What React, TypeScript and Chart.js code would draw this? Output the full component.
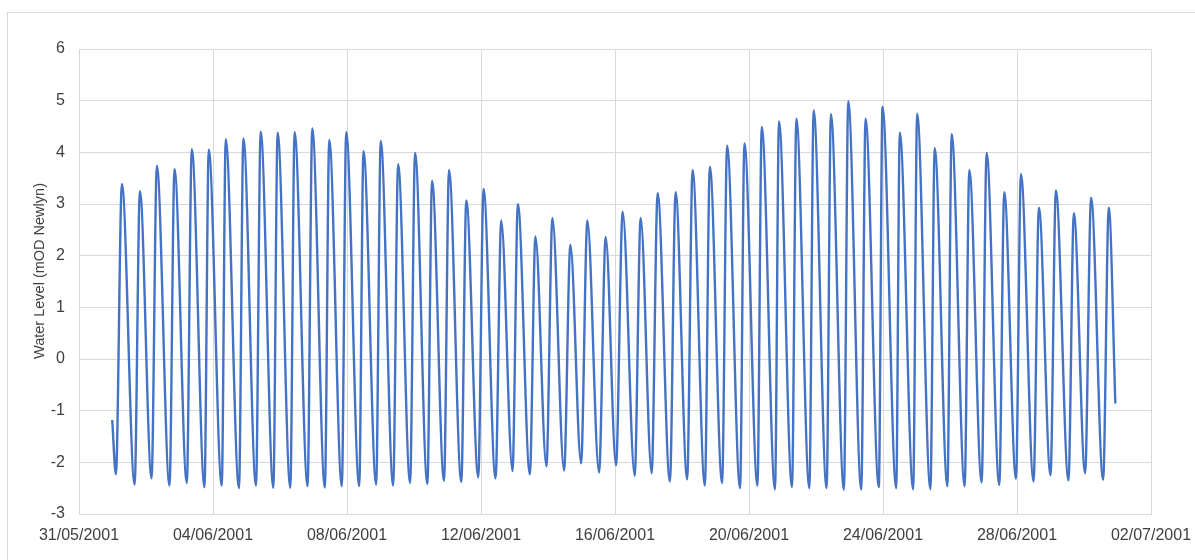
import React, { useEffect, useRef } from 'react';
import { Chart, registerables } from 'chart.js';

Chart.register(...registerables);

// X tick labels (every 4 days from 31/05/2001)
const dateLabels = [
  '31/05/2001', '04/06/2001', '08/06/2001', '12/06/2001', '16/06/2001',
  '20/06/2001', '24/06/2001', '28/06/2001', '02/07/2001',
];
const yAxisTitle = 'Water Level (mOD Newlyn)';

// Time in days since 31/05/2001 00:00, water level in mOD Newlyn
const startDay = 0.992;
const startLevel = -1.18;
const endDay = 30.936;
const endLevel = -0.86;

const lowDays = [
  1.102, 1.660, 2.166, 2.702, 3.218, 3.745, 4.261, 4.776, 5.283, 5.801,
  6.308, 6.823, 7.339, 7.845, 8.364, 8.870, 9.377, 9.883, 10.399, 10.896,
  11.412, 11.918, 12.434, 12.940, 13.458, 13.953, 14.480, 14.987, 15.523, 16.030,
  16.587, 17.094, 17.639, 18.154, 18.682, 19.197, 19.733, 20.252, 20.776, 21.283,
  21.801, 22.317, 22.833, 23.351, 23.875, 24.394, 24.900, 25.415, 25.922, 26.437,
  26.944, 27.471, 27.969, 28.494, 29.000, 29.536, 30.033, 30.570,
];
const lowLevels = [
  -2.23, -2.43, -2.31, -2.45, -2.40, -2.48, -2.45, -2.50, -2.45, -2.49,
  -2.49, -2.46, -2.49, -2.46, -2.46, -2.43, -2.45, -2.40, -2.42, -2.36,
  -2.38, -2.29, -2.31, -2.17, -2.23, -2.08, -2.16, -2.02, -2.20, -2.06,
  -2.26, -2.21, -2.37, -2.33, -2.45, -2.40, -2.50, -2.45, -2.52, -2.48,
  -2.50, -2.50, -2.53, -2.53, -2.48, -2.50, -2.52, -2.52, -2.46, -2.46,
  -2.39, -2.44, -2.32, -2.37, -2.25, -2.35, -2.21, -2.34,
];
const highDays = [
  1.281, 1.818, 2.324, 2.851, 3.367, 3.873, 4.380, 4.907, 5.423, 5.929,
  6.436, 6.963, 7.470, 7.976, 8.492, 9.007, 9.526, 10.032, 10.539, 11.045,
  11.561, 12.076, 12.604, 13.101, 13.625, 14.132, 14.668, 15.175, 15.723, 16.229,
  16.766, 17.273, 17.809, 18.315, 18.831, 19.346, 19.864, 20.380, 20.895, 21.414,
  21.930, 22.445, 22.963, 23.479, 23.985, 24.501, 25.019, 25.543, 26.050, 26.577,
  27.093, 27.620, 28.118, 28.654, 29.161, 29.697, 30.212, 30.740,
];
const highLevels = [
  3.39, 3.25, 3.74, 3.68, 4.06, 4.05, 4.25, 4.27, 4.40, 4.38,
  4.39, 4.46, 4.24, 4.39, 4.02, 4.22, 3.77, 3.99, 3.45, 3.66,
  3.07, 3.29, 2.68, 3.00, 2.37, 2.73, 2.21, 2.68, 2.36, 2.85,
  2.73, 3.21, 3.23, 3.66, 3.72, 4.13, 4.17, 4.49, 4.60, 4.65,
  4.81, 4.74, 4.99, 4.65, 4.88, 4.38, 4.75, 4.08, 4.35, 3.66,
  3.99, 3.23, 3.58, 2.93, 3.26, 2.82, 3.12, 2.93,
];

const FONT = '"Liberation Sans", Arial, Helvetica, sans-serif';
const TEXT = '#404040';
const GRID = '#d9d9d9';

const yTitlePlugin = {
  id: 'yTitleText',
  afterDraw(chart: any) {
    const ctx = chart.ctx;
    ctx.save();
    ctx.translate(33, 259);
    ctx.rotate(-Math.PI / 2);
    ctx.font = `14.5px ${FONT}`;
    ctx.fillStyle = TEXT;
    ctx.textAlign = 'center';
    ctx.textBaseline = 'middle';
    ctx.fillText(yAxisTitle, 0, 0);
    ctx.restore();
  },
};

export default function App() {
  const ref = useRef<HTMLCanvasElement>(null);

  useEffect(() => {
    if (!ref.current) return;
    const points: { x: number; y: number }[] = [{ x: startDay, y: startLevel }];
    lowDays.forEach((d, i) => points.push({ x: d, y: lowLevels[i] }));
    highDays.forEach((d, i) => points.push({ x: d, y: highLevels[i] }));
    points.push({ x: endDay, y: endLevel });
    points.sort((a, b) => a.x - b.x);

    const chart = new Chart(ref.current, {
      type: 'line',
      data: {
        datasets: [
          {
            label: 'Water Level',
            data: points,
            borderColor: '#4472C4',
            borderWidth: 2.4,
            pointRadius: 0,
            fill: false,
            cubicInterpolationMode: 'monotone',
          },
        ],
      },
      plugins: [yTitlePlugin],
      options: {
        animation: false,
        responsive: false,
        events: [],
        layout: { padding: { left: 0, top: 37, right: 44, bottom: 0 } },
        plugins: { legend: { display: false }, tooltip: { enabled: false } },
        scales: {
          x: {
            type: 'linear',
            min: 0,
            max: 32,
            afterFit: (s: any) => {
              s.height = 46;
              s.paddingLeft = 0;
              s.paddingRight = 0;
            },
            ticks: {
              stepSize: 4,
              autoSkip: false,
              maxRotation: 0,
              padding: 12,
              color: TEXT,
              font: { family: FONT, size: 16 },
              callback: (v: any) => dateLabels[Math.round(Number(v) / 4)] ?? '',
            },
            grid: { color: GRID, drawTicks: false, lineWidth: 1 },
            border: { display: true, color: GRID },
          },
          y: {
            min: -3,
            max: 6,
            afterFit: (s: any) => {
              s.width = 72;
              s.paddingTop = 0;
              s.paddingBottom = 0;
            },
            ticks: {
              stepSize: 1,
              padding: 14,
              color: TEXT,
              font: { family: FONT, size: 16 },
            },
            grid: { color: GRID, drawTicks: false, lineWidth: 1 },
            border: { display: true, color: GRID },
          },
        },
      },
    } as any);
    return () => chart.destroy();
  }, []);

  return (
    <div
      style={{
        position: 'fixed',
        left: 0,
        top: 0,
        width: 1195,
        height: 560,
        overflow: 'hidden',
        background: '#ffffff',
      }}
    >
      <div
        style={{
          position: 'absolute',
          left: 7,
          top: 12,
          width: 1300,
          height: 700,
          borderLeft: '1px solid #d9d9d9',
          borderTop: '1px solid #d9d9d9',
        }}
      />
      <canvas
        ref={ref}
        width={1188}
        height={548}
        style={{ position: 'absolute', left: 7, top: 12, width: 1188, height: 548, display: 'block' }}
      />
    </div>
  );
}
